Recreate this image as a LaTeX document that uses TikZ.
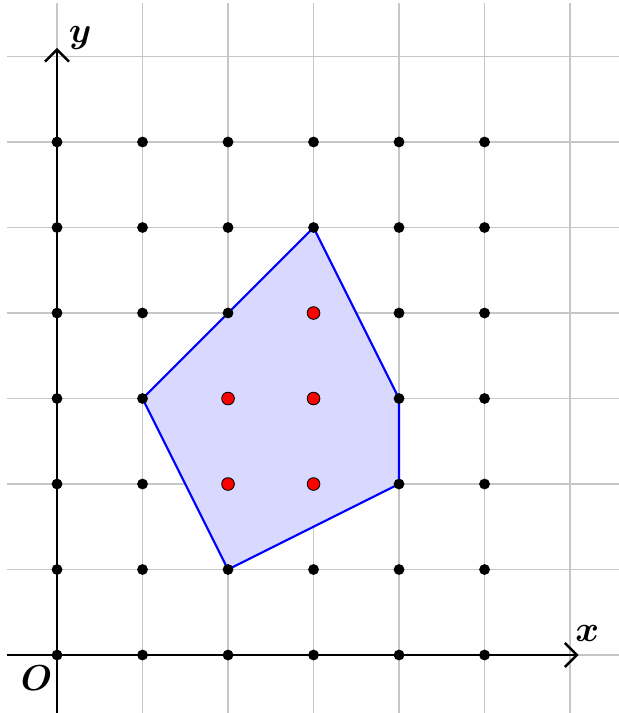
\documentclass[tikz,border=0pt]{standalone}
\usepackage{amsmath,bm}
\usetikzlibrary{arrows.meta}
\begin{document}
\begin{tikzpicture}[x=1cm,y=1cm,
  gridline/.style={gray!45,line width=0.4pt},
  axisline/.style={black,line width=0.8pt,-{Straight Barb[length=4pt,width=8pt]}},
  lattice/.style={circle,fill=black,inner sep=0pt,minimum size=3.6pt},
  inner/.style={circle,fill=red,draw=black,line width=0.3pt,inner sep=0pt,minimum size=4.2pt},
  poly/.style={draw=blue,line width=0.7pt,fill=blue!15}]
\useasboundingbox (-0.667,-0.678) rectangle (6.561,7.661);
\draw[gridline] (-0.58,-0.7) grid (6.6,7.62);
\coordinate (A) at (1,3);
\coordinate (B) at (3,5);
\coordinate (C) at (4,3);
\coordinate (D) at (4,2);
\coordinate (E) at (2,1);
\draw[poly] (A) -- (B) -- (C) -- (D) -- (E) -- cycle;
\coordinate (xs) at (-0.58,0);
\coordinate (xe) at (6.1,0);
\coordinate (ys) at (0,-0.7);
\coordinate (ye) at (0,7.1);
\draw[axisline] (xs) -- (xe);
\draw[axisline] (ys) -- (ye);
\foreach \i in {0,...,5}{\foreach \j in {0,...,6}{\node[lattice] (p\i\j) at (\i,\j) {};}}
\foreach \p in {(3,4),(2,3),(3,3),(2,2),(3,2)}{\node[inner] at \p {};}
\node[font=\large] (xl) at (6.2,0.25) {$\bm{x}$};
\node[font=\large] (yl) at (0.27,7.22) {$\bm{y}$};
\node[font=\large] (ol) at (-0.24,-0.27) {$\bm{O}$};
\end{tikzpicture}
\end{document}
